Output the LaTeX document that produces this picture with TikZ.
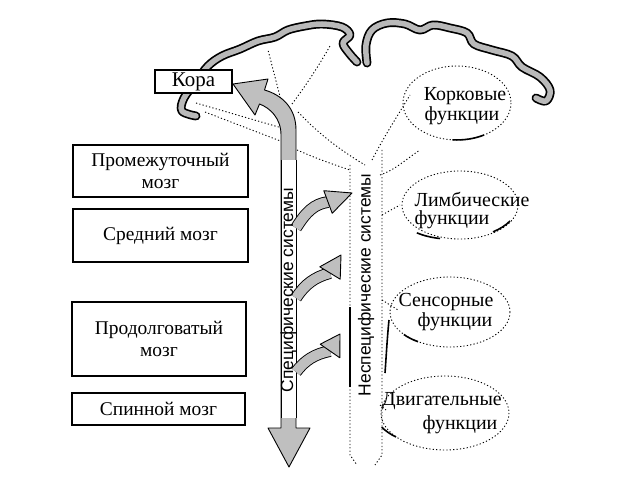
\documentclass[tikz,border=0pt]{standalone}
\usepackage{fontspec}
\setmainfont{Liberation Serif}
\newfontfamily\sansf{Liberation Sans}
\begin{document}
\begin{tikzpicture}[x=1bp,y=-1bp,
  boxst/.style={draw, line width=1.4bp, fill=white, minimum width=175bp, align=center, font=\fontsize{19.5}{22}\selectfont, inner sep=0},
  lbl/.style={font=\fontsize{20}{22}\selectfont, inner sep=0},
  cortex/.style={draw=black, line width=1.7bp, double=gray!55, double distance=5.5bp, line cap=round, line join=round},
  band/.style={fill=gray!50, draw=black, line width=0.9bp, line join=round},
  dots/.style={dash pattern=on 1.2bp off 2.2bp, line width=0.9bp},
  solidarc/.style={line width=1.6bp},
  vlbl/.style={rotate=90, font=\sansf\fontsize{17.5}{17.5}\selectfont, inner sep=0}]
\useasboundingbox (0,0) rectangle (621,493);

% cortex outline
\draw[cortex] plot[smooth, tension=0.6] coordinates {(196,116) (182,111) (184,98) (196,82) (208,66) (222,56) (240,49) (258,41) (275,37) (288,30) (305,26) (322,24) (342,27) (350,35) (343,43) (349,53) (357,62)};
\draw[cortex] plot[smooth, tension=0.6] coordinates {(367,63) (366,45) (372,30) (387,23) (405,24) (420,30) (433,25) (450,28) (467,33) (474,44) (492,50) (512,56) (522,67) (540,77) (550,90) (546,101) (536,98)};

% dotted projections
\draw[dots] (283,108) -- (268,50);
\draw[dots] (292,104) .. controls (310,80) and (322,60) .. (330,46);
\draw[dots] (196,103) -- (282,128);
\draw[dots] (205,112) -- (283,142);
\draw[dots] (297,150) .. controls (320,160) and (335,165) .. (350,170);
\draw[dots] (298,112) .. controls (320,135) and (340,150) .. (365,165);
\draw[dots] (372,160) .. controls (385,135) and (395,120) .. (410,95);
\draw[dots] (380,175) .. controls (395,170) and (405,160) .. (420,150);
\draw[dots] (382,215) -- (400,205);
\draw[dots] (382,300) -- (398,310);
\draw[dots] (380,405) -- (386,410);

% nonspecific column
\draw[dots] (350,165) -- (350,455) -- (357,465);
\draw[dots] (382,150) -- (382,455) -- (375,465);
\draw[line width=1.8bp] (350,307) -- (350,387);
\draw[line width=1.6bp] (389,320) .. controls (387,340) and (386,360) .. (385,373);

% specific system band with arrowheads
\draw[band] (289,467) -- (310,428) -- (296,428) -- (296,130)
  .. controls (296,108) and (282,95) .. (264.5,90) -- (268,79) -- (233,84) -- (255,115) -- (259.5,104)
  .. controls (270,108) and (281,118) .. (281,135) -- (281,428) -- (268,428) -- cycle;
\fill[white] (282,160) rectangle (295.5,418);
\draw[line width=0.9bp] (281,160) -- (281,418) (296,160) -- (296,418);

% curved arrows to the nonspecific system
\draw[draw=black, line width=0.9bp, double=gray!50, double distance=10bp] (296,228) .. controls (306,212) and (314,204) .. (328,202);
\draw[band] (352,193) -- (332.2,213.3) -- (323.8,190.7) -- cycle;
\draw[draw=black, line width=0.9bp, double=gray!50, double distance=10bp] (296,298) .. controls (305,284) and (315,277) .. (330,273);
\draw[band] (341,255) -- (340.2,279.2) -- (319.8,266.8) -- cycle;
\draw[draw=black, line width=0.9bp, double=gray!50, double distance=10bp] (296,372) .. controls (305,360) and (315,354) .. (330,351);
\draw[band] (340,334) -- (339.8,357.8) -- (320.2,344.2) -- cycle;

% function ellipses
\draw[dots] (457,103) ellipse[x radius=54, y radius=37];
\draw[solidarc] (484,135) arc[start angle=60, end angle=95, x radius=54, y radius=37];
\draw[dots] (460,205) ellipse[x radius=58, y radius=34];
\draw[solidarc] (440,238.5) arc[start angle=100, end angle=125, x radius=58, y radius=34];
\draw[solidarc] (510,221) arc[start angle=30, end angle=55, x radius=58, y radius=34];
\draw[dots] (450,312) ellipse[x radius=60, y radius=35];
\draw[solidarc] (418,341.7) arc[start angle=122, end angle=140, x radius=60, y radius=35];
\draw[dots] (445,413) ellipse[x radius=64, y radius=37];
\draw[solidarc] (396,437) arc[start angle=130, end angle=150, x radius=64, y radius=37];

% brain level boxes
\node[draw, line width=2.6bp, fill=white, minimum width=77bp, minimum height=23bp, inner sep=0, font=\fontsize{21}{22}\selectfont] (kora) at (193.5,81.5) {Кора};
\node[boxst, minimum height=52bp] (prom) at (160.5,171) {Промежуточный\\мозг};
\node[boxst, minimum height=53bp] (sred) at (160.5,235.5) {Средний мозг};
\node[boxst, minimum height=74bp, minimum width=174bp] (prod) at (159,339) {Продолговатый\\мозг};
\node[boxst, minimum height=32bp, minimum width=173bp] (spin) at (158.5,409) {Спинной мозг};

% system labels
\node[vlbl] (spec) at (288.5,290) {Специфические системы};
\node[vlbl] (nspec) at (366,285) {Неспецифические системы};

% function labels
\node[lbl] (k1) at (465,96) {Корковые};
\node[lbl] (k2) at (462,116) {функции};
\node[lbl] (l1) at (472,199) {Лимбические};
\node[lbl] (l2) at (452,220) {функции};
\node[lbl] (s1) at (446,302) {Сенсорные};
\node[lbl] (s2) at (455,322) {функции};
\node[lbl] (d1) at (442,401) {Двигательные};
\node[lbl] (d2) at (460,425) {функции};
\end{tikzpicture}
\end{document}
